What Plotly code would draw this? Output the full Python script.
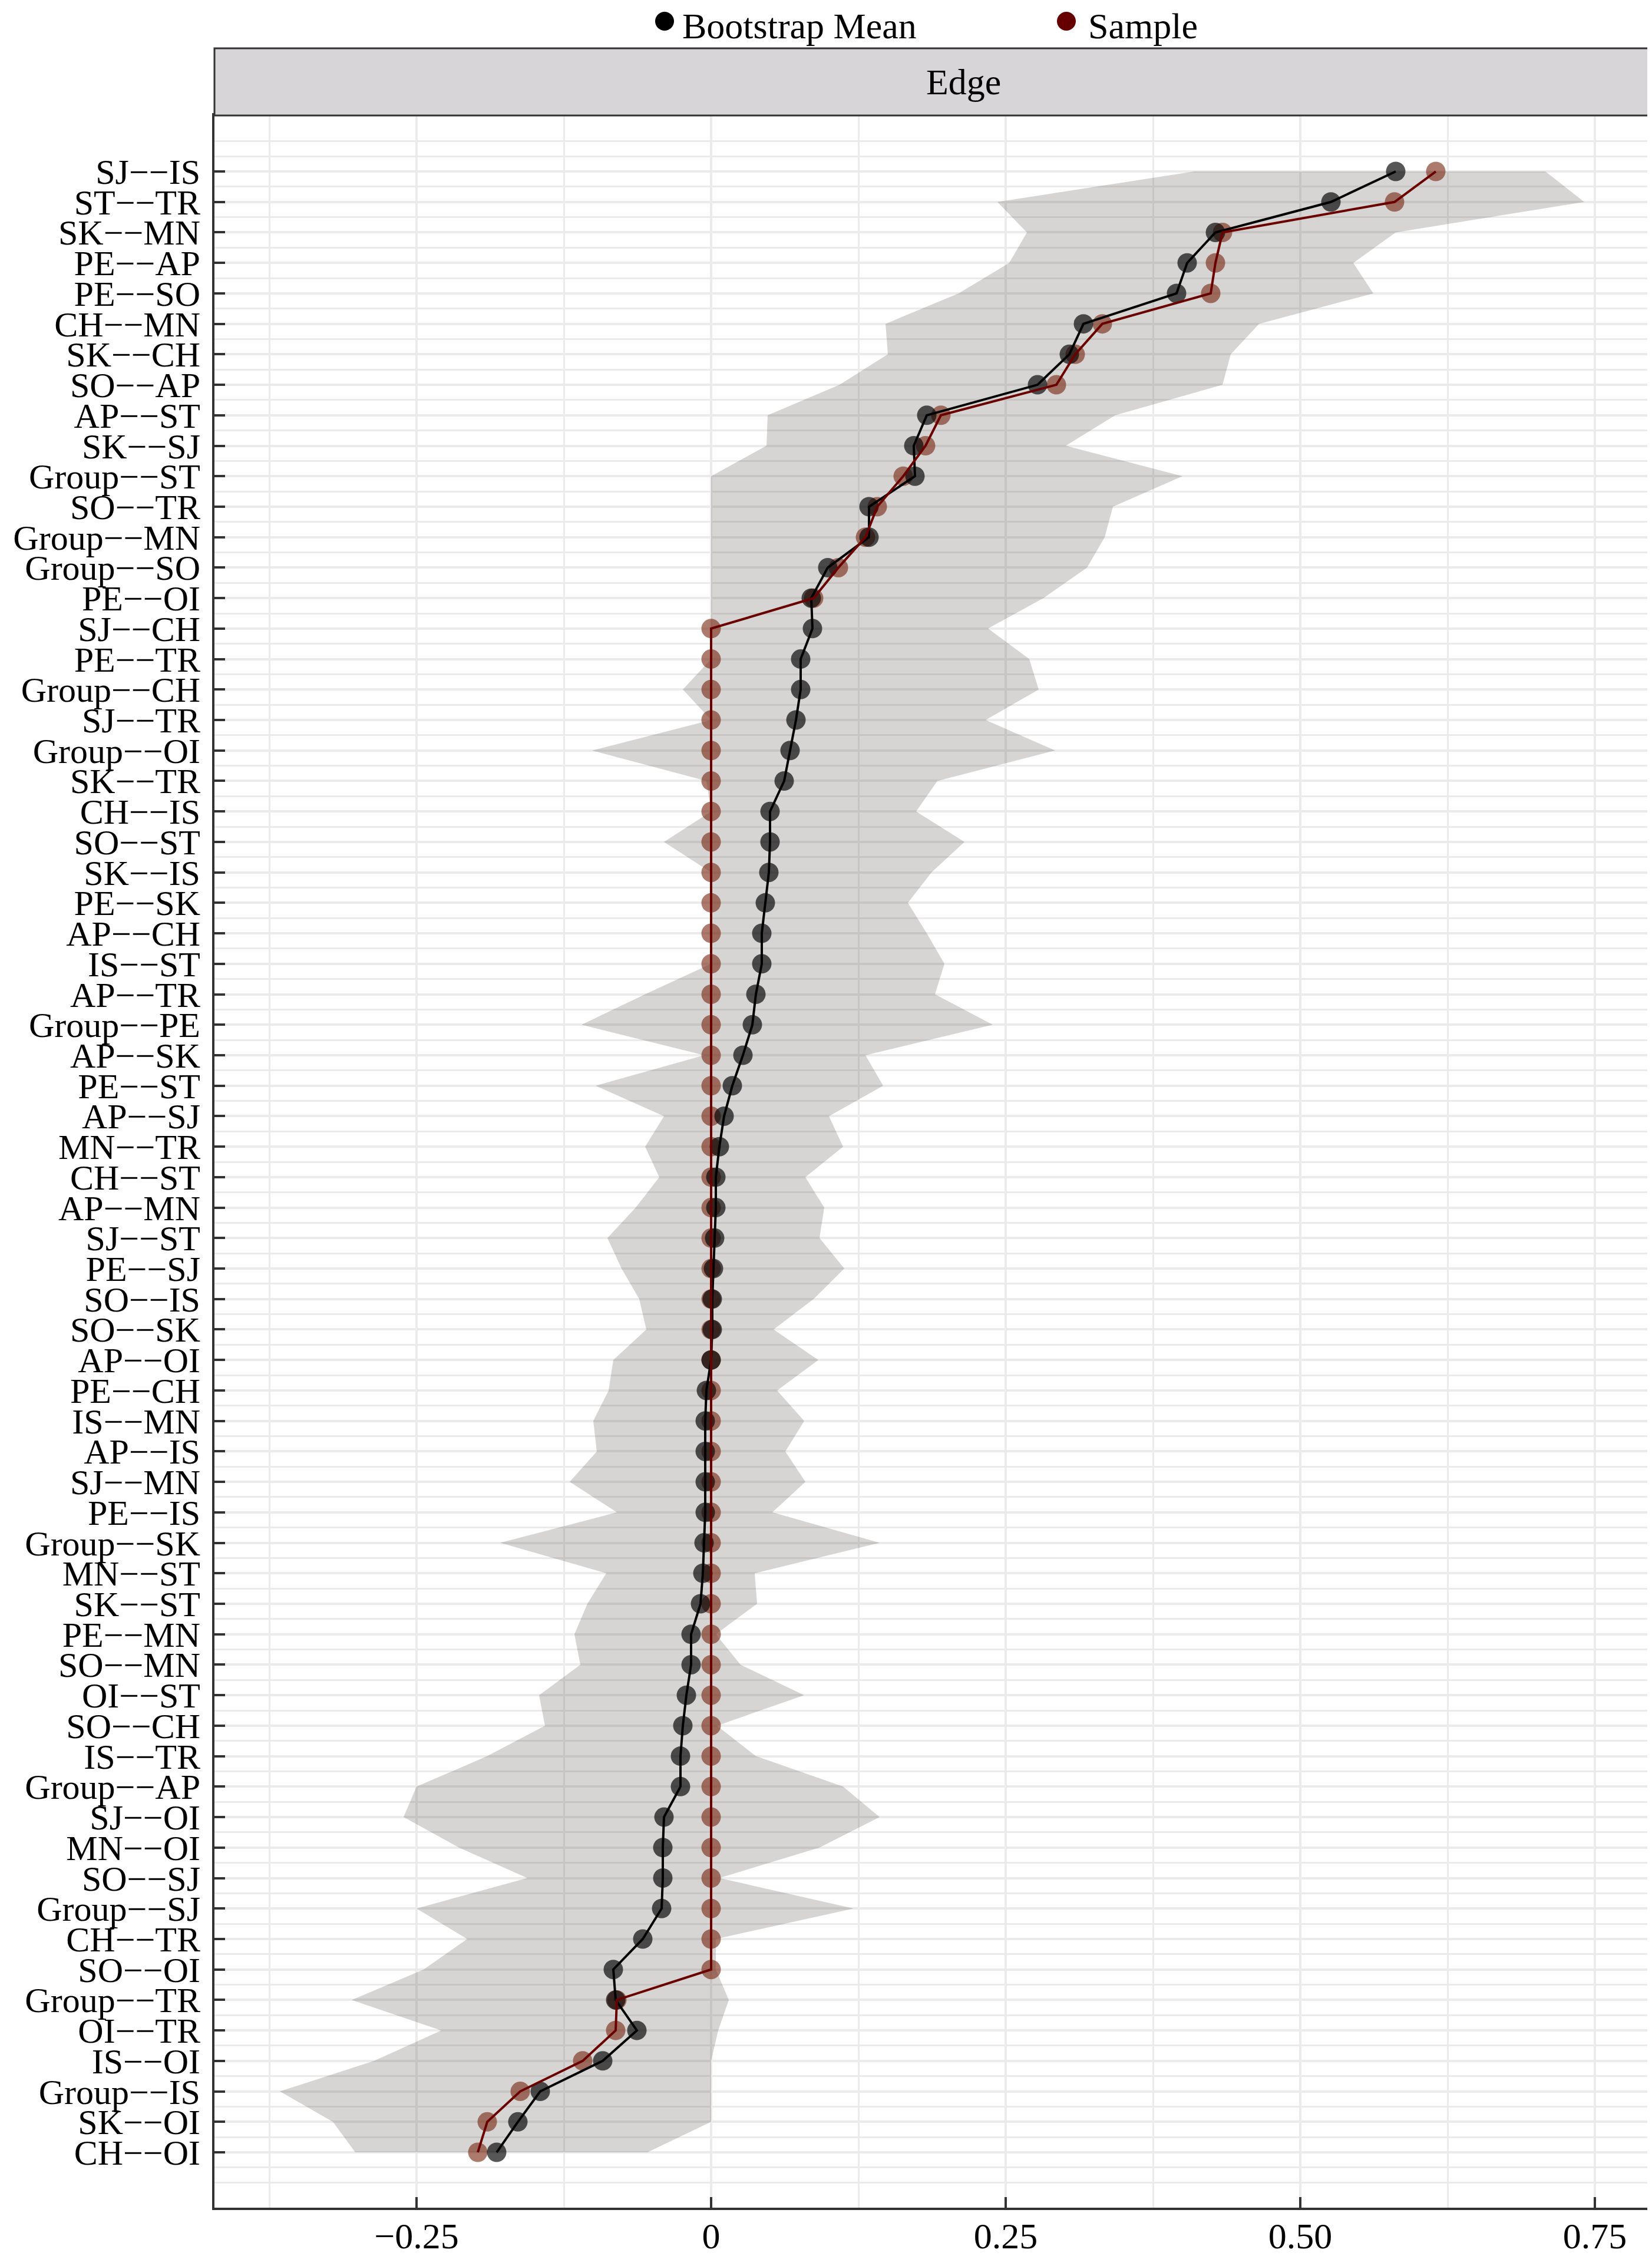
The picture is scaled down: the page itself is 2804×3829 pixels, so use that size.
import plotly.graph_objects as go

# edges, ordered as in the plot (top -> bottom)
edges = ["SJ--IS", "ST--TR", "SK--MN", "PE--AP", "PE--SO", "CH--MN", "SK--CH", "SO--AP",
         "AP--ST", "SK--SJ", "Group--ST", "SO--TR", "Group--MN", "Group--SO", "PE--OI",
         "SJ--CH", "PE--TR", "Group--CH", "SJ--TR", "Group--OI", "SK--TR", "CH--IS",
         "SO--ST", "SK--IS", "PE--SK", "AP--CH", "IS--ST", "AP--TR", "Group--PE", "AP--SK",
         "PE--ST", "AP--SJ", "MN--TR", "CH--ST", "AP--MN", "SJ--ST", "PE--SJ", "SO--IS",
         "SO--SK", "AP--OI", "PE--CH", "IS--MN", "AP--IS", "SJ--MN", "PE--IS", "Group--SK",
         "MN--ST", "SK--ST", "PE--MN", "SO--MN", "OI--ST", "SO--CH", "IS--TR", "Group--AP",
         "SJ--OI", "MN--OI", "SO--SJ", "Group--SJ", "CH--TR", "SO--OI", "Group--TR",
         "OI--TR", "IS--OI", "Group--IS", "SK--OI", "CH--OI"]

boot_mean = [0.581, 0.526, 0.428, 0.404, 0.395, 0.316, 0.304, 0.277, 0.183, 0.172, 0.173,
             0.134, 0.134, 0.099, 0.085, 0.086, 0.076, 0.076, 0.072, 0.067, 0.062, 0.050,
             0.050, 0.049, 0.046, 0.043, 0.043, 0.038, 0.035, 0.027, 0.018, 0.011, 0.007,
             0.004, 0.004, 0.003, 0.002, 0.001, 0.001, 0.000, -0.004, -0.005, -0.005,
             -0.005, -0.005, -0.006, -0.007, -0.009, -0.017, -0.017, -0.021, -0.024,
             -0.026, -0.026, -0.040, -0.041, -0.041, -0.042, -0.058, -0.083, -0.081,
             -0.063, -0.092, -0.145, -0.164, -0.182]

sample = [0.615, 0.580, 0.434, 0.428, 0.424, 0.332, 0.309, 0.293, 0.195, 0.182, 0.163,
          0.141, 0.131, 0.108, 0.087, 0, 0, 0, 0, 0, 0, 0, 0, 0, 0, 0, 0, 0, 0, 0, 0, 0,
          0, 0, 0, 0, 0, 0, 0, 0, 0, 0, 0, 0, 0, 0, 0, 0, 0, 0, 0, 0, 0, 0, 0, 0, 0, 0,
          0, 0, -0.080, -0.081, -0.109, -0.162, -0.190, -0.198]

ci_lower = [0.410, 0.243, 0.268, 0.253, 0.210, 0.148, 0.150, 0.109, 0.048, 0.047, 0.000,
            0.000, 0.000, 0.000, 0.000, 0.000, 0.000, -0.024, 0.000, -0.101, -0.004, 0.000,
            -0.040, 0.000, 0.000, 0.000, 0.000, -0.056, -0.110, -0.006, -0.098, -0.040,
            -0.056, -0.044, -0.064, -0.088, -0.076, -0.061, -0.055, -0.083, -0.087,
            -0.100, -0.097, -0.120, -0.080, -0.179, -0.089, -0.105, -0.116, -0.111,
            -0.146, -0.141, -0.190, -0.250, -0.261, -0.214, -0.156, -0.250, -0.207,
            -0.244, -0.305, -0.229, -0.286, -0.366, -0.321, -0.302]

ci_upper = [0.708, 0.741, 0.581, 0.545, 0.562, 0.465, 0.441, 0.434, 0.343, 0.301, 0.400,
            0.341, 0.334, 0.319, 0.282, 0.235, 0.270, 0.278, 0.233, 0.292, 0.192, 0.174,
            0.215, 0.187, 0.167, 0.183, 0.198, 0.190, 0.239, 0.131, 0.146, 0.100, 0.112,
            0.080, 0.096, 0.092, 0.113, 0.087, 0.053, 0.091, 0.056, 0.079, 0.063, 0.080,
            0.052, 0.143, 0.037, 0.039, 0.004, 0.025, 0.079, 0.005, 0.038, 0.112, 0.143,
            0.092, 0.007, 0.121, 0.004, 0.004, 0.015, 0.006, 0.000, 0.000, 0.000, -0.054]

x_ticks = [-0.25, 0, 0.25, 0.5, 0.75]
x_ticktext = ["\u22120.25", "0", "0.25", "0.50", "0.75"]

FONT = "Liberation Serif"
OFF = 8                      # page body margin of the html file
W, H = 2804 - OFF, 3829 - OFF
ML, MR, MT, MB = 364 - OFF, 2, 196 - OFF, 82

n = len(edges)
ypos = list(range(n, 0, -1))          # top row gets the highest value
labels = [e.replace("-", "\u2212") for e in edges]

fig = go.Figure()

# bootstrap interval band
fig.add_trace(go.Scatter(
    x=ci_lower + ci_upper[::-1], y=ypos + ypos[::-1],
    fill="toself", fillcolor="rgba(55,40,40,0.2)", line=dict(width=0),
    mode="lines", hoverinfo="skip", showlegend=False))

# points
fig.add_trace(go.Scatter(x=sample, y=ypos, mode="markers", showlegend=False,
                         marker=dict(size=33, color="rgba(117,35,12,0.6)", line=dict(width=0))))
fig.add_trace(go.Scatter(x=boot_mean, y=ypos, mode="markers", showlegend=False,
                         marker=dict(size=33, color="rgba(0,0,0,0.66)", line=dict(width=0))))

# lines
fig.add_trace(go.Scatter(x=boot_mean, y=ypos, mode="lines", showlegend=False,
                         line=dict(color="#000000", width=4)))
fig.add_trace(go.Scatter(x=sample, y=ypos, mode="lines", showlegend=False,
                         line=dict(color="#6B0000", width=4)))

pw = W - ML - MR
ph = H - MT - MB
# page pixel -> paper coords
def px_x(v):
    return (v - OFF - ML) / pw
def px_y(v):
    return (H - MB - (v - OFF)) / ph

# facet strip
fig.add_shape(type="rect", xref="paper", yref="paper", x0=0, x1=1, y0=1, y1=px_y(82),
              fillcolor="#D7D5D7", line=dict(color="#333333", width=3), layer="above")
fig.add_annotation(text="Edge", xref="paper", yref="paper", x=px_x(1635), y=px_y(139),
                   xanchor="center", yanchor="middle", showarrow=False,
                   font=dict(family=FONT, size=62, color="black"))

# legend (drawn by hand so the keys keep their size)
for name, col, cx, tx in [("Bootstrap Mean", "#000000", 1128, 1156),
                          ("Sample", "#660000", 1810, 1845)]:
    fig.add_shape(type="circle", xref="paper", yref="paper",
                  xsizemode="pixel", ysizemode="pixel",
                  xanchor=px_x(cx), yanchor=px_y(36), x0=-16, x1=16, y0=-16, y1=16,
                  fillcolor=col, line=dict(width=0))
    fig.add_annotation(text=name, xref="paper", yref="paper", x=px_x(tx), y=px_y(OFF),
                       xanchor="left", yanchor="top", showarrow=False,
                       font=dict(family=FONT, size=62, color="black"))

fig.update_layout(
    width=W, height=H,
    margin=dict(l=ML, r=MR, t=MT, b=MB),
    paper_bgcolor="white", plot_bgcolor="white",
    font=dict(family=FONT, size=62, color="black"),
    showlegend=False,
)

fig.update_xaxes(
    range=[-0.4215, 0.7975], tickvals=x_ticks, ticktext=x_ticktext,
    ticks="inside", ticklen=18, tickwidth=4, tickcolor="#333333",
    tickfont=dict(family=FONT, size=62, color="black"), ticklabelstandoff=-9,
    automargin=False,
    showgrid=True, gridcolor="#EBEBEB", gridwidth=4, zeroline=False,
    minor=dict(tickvals=[-0.375, -0.125, 0.125, 0.375, 0.625], showgrid=True,
               gridcolor="#EBEBEB", gridwidth=3, ticks=""),
    showline=True, mirror=True, linecolor="#333333", linewidth=4,
)
fig.update_yaxes(
    range=[-0.817, 67.837], tickvals=ypos, ticktext=labels,
    ticks="inside", ticklen=18, tickwidth=4, tickcolor="#333333",
    tickfont=dict(family=FONT, size=60, color="black"), ticklabelstandoff=8,
    automargin=False,
    showgrid=True, gridcolor="#EBEBEB", gridwidth=3.5, zeroline=False,
    minor=dict(tickvals=[0] + [i + 0.5 for i in range(0, n + 1)] + [n + 1],
               showgrid=True, gridcolor="#EBEBEB", gridwidth=3, ticks=""),
    showline=True, mirror=True, linecolor="#333333", linewidth=4,
)

fig.write_html("out.html")
